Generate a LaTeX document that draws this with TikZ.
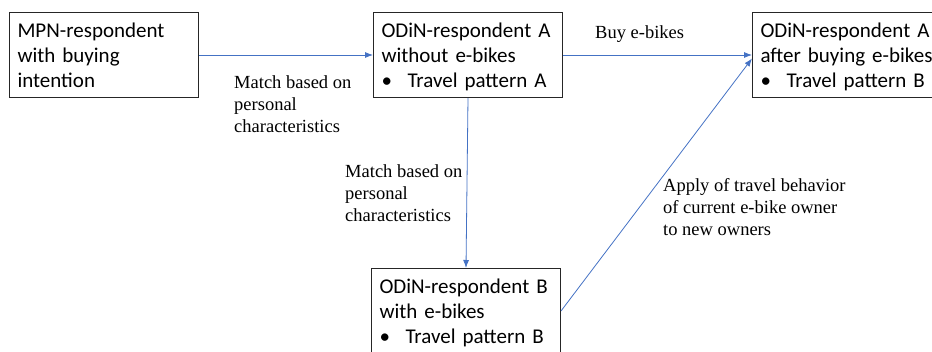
\documentclass[tikz,border=0pt]{standalone}
\usepackage{fontspec}
\setmainfont{Liberation Serif}
\newfontfamily\boxfont{Carlito}
\usetikzlibrary{arrows.meta}

\definecolor{linkblue}{RGB}{68,114,196}
\newcommand{\bxstrut}{\rule[-5pt]{0pt}{25pt}}
\newcommand{\lbstrut}{\rule{0pt}{15pt}}
\newcommand{\bitem}[1]{\makebox[26pt][l]{\textbullet}#1}

\begin{document}
\begin{tikzpicture}[x=1pt,y=-1pt,
    stage/.style={draw=black!85, line width=1pt, anchor=north west, align=left,
      text width=173pt, inner xsep=8pt, inner ysep=5pt, minimum height=85pt,
      font=\boxfont\fontsize{21}{25}\selectfont},
    note/.style={anchor=north west, align=left, inner sep=0pt,
      font=\fontsize{18.5}{22}\selectfont},
    link/.style={linkblue, line width=0.8pt, -{Latex[length=8pt,width=6pt]}}]
    \clip (0,0) rectangle (932,351);
    % Respondent boxes
    \node[stage] (mpn) at (9,12)
      {\bxstrut MPN-respondent\\with buying\\intention\bxstrut};
    \node[stage] (odinA) at (373,12)
      {\bxstrut ODiN-respondent A\\without e-bikes\\\bitem{Travel pattern A}\bxstrut};
    \node[stage] (odinAB) at (752,12)
      {\bxstrut ODiN-respondent A\\after buying e-bikes\\\bitem{Travel pattern B}\bxstrut};
    \node[stage] (odinB) at (371,268)
      {\bxstrut ODiN-respondent B\\with e-bikes\\\bitem{Travel pattern B}\bxstrut};
    % Connectors
    \draw[link] (mpn.east) -- (odinA.west);
    \draw[link] (odinA.east) -- (odinAB.west);
    \draw[link] (odinA.south) -- (odinB.north);
    \draw[link] (odinB.east) -- ([yshift=-3.5pt]odinAB.west);
    % Connector notes
    \node[note] (match1) at (234,73) {\lbstrut Match based on\\personal\\characteristics};
    \node[note] (buy) at (595,23) {\lbstrut Buy e-bikes};
    \node[note] (match2) at (345,162) {\lbstrut Match based on\\personal\\characteristics};
    \node[note] (apply) at (663,176)
      {\lbstrut Apply of travel behavior\\of current e-bike owner\\to new owners};
\end{tikzpicture}
\end{document}
